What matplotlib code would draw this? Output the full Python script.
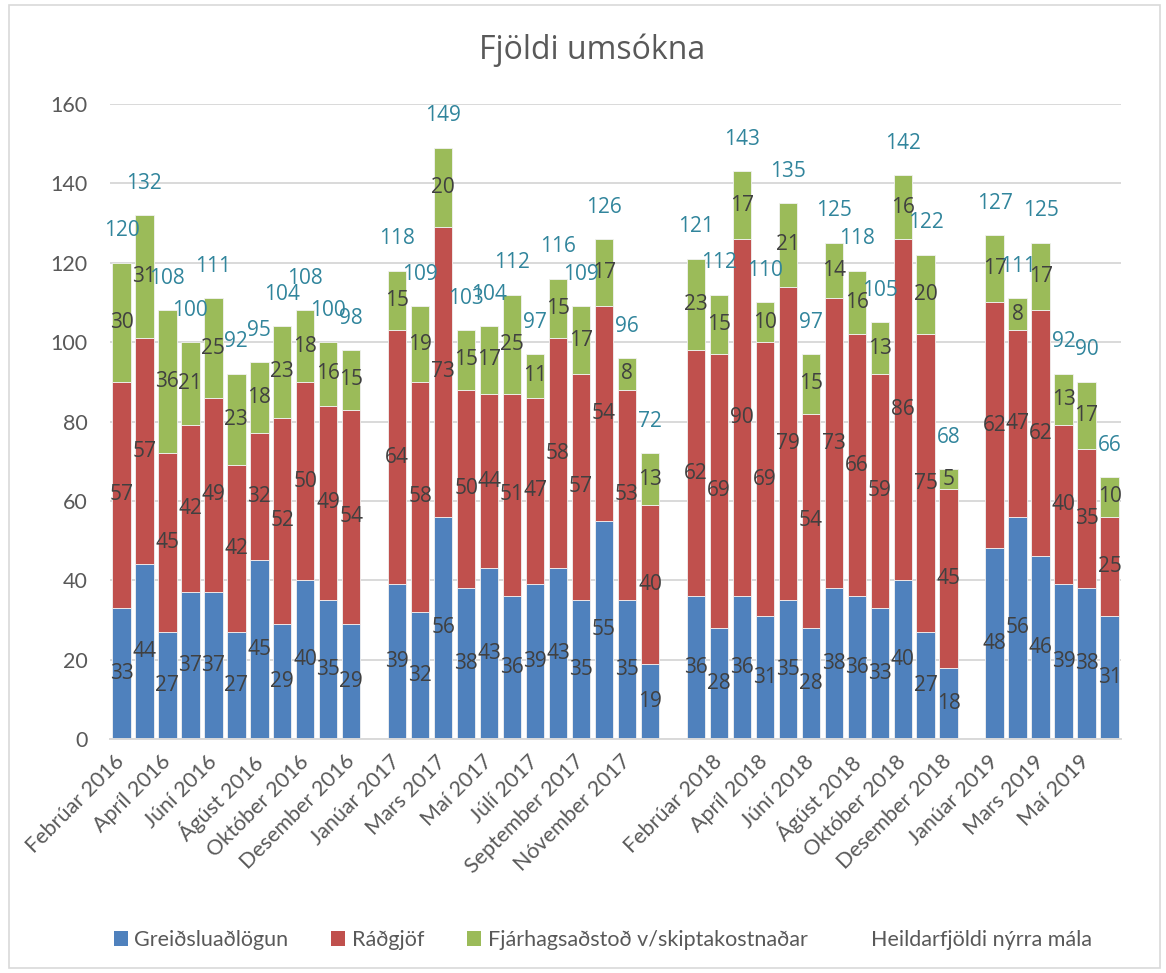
import numpy as np
import matplotlib
matplotlib.use('Agg')
import matplotlib.pyplot as plt
from matplotlib.patches import Patch, Rectangle
from matplotlib.lines import Line2D

# ---------------- data ----------------
categories = [
    'Febrúar 2016', 'Mars 2016', 'Apríl 2016', 'Maí 2016', 'Júní 2016', 'Júlí 2016',
    'Ágúst 2016', 'September 2016', 'Október 2016', 'Nóvember 2016', 'Desember 2016', '',
    'Janúar 2017', 'Febrúar 2017', 'Mars 2017', 'Apríl 2017', 'Maí 2017', 'Júní 2017',
    'Júlí 2017', 'Ágúst 2017', 'September 2017', 'Október 2017', 'Nóvember 2017', 'Desember 2017', '',
    'Janúar 2018', 'Febrúar 2018', 'Mars 2018', 'Apríl 2018', 'Maí 2018', 'Júní 2018',
    'Júlí 2018', 'Ágúst 2018', 'September 2018', 'Október 2018', 'Nóvember 2018', 'Desember 2018', '',
    'Janúar 2019', 'Febrúar 2019', 'Mars 2019', 'Apríl 2019', 'Maí 2019', 'Júní 2019',
]

greidsluadlogun = [33, 44, 27, 37, 37, 27, 45, 29, 40, 35, 29, None,
                   39, 32, 56, 38, 43, 36, 39, 43, 35, 55, 35, 19, None,
                   36, 28, 36, 31, 35, 28, 38, 36, 33, 40, 27, 18, None,
                   48, 56, 46, 39, 38, 31]
radgjof = [57, 57, 45, 42, 49, 42, 32, 52, 50, 49, 54, None,
           64, 58, 73, 50, 44, 51, 47, 58, 57, 54, 53, 40, None,
           62, 69, 90, 69, 79, 54, 73, 66, 59, 86, 75, 45, None,
           62, 47, 62, 40, 35, 25]
fjarhagsadstod = [30, 31, 36, 21, 25, 23, 18, 23, 18, 16, 15, None,
                  15, 19, 20, 15, 17, 25, 11, 15, 17, 17, 8, 13, None,
                  23, 15, 17, 10, 21, 15, 14, 16, 13, 16, 20, 5, None,
                  17, 8, 17, 13, 17, 10]
heildarfjoldi = [120, 132, 108, 100, 111, 92, 95, 104, 108, 100, 98, None,
                 118, 109, 149, 103, 104, 112, 97, 116, 109, 126, 96, 72, None,
                 121, 112, 143, 110, 135, 97, 125, 118, 105, 142, 122, 68, None,
                 127, 111, 125, 92, 90, 66]

series_names = ['Greiðsluaðlögun', 'Ráðgjöf', 'Fjárhagsaðstoð v/skiptakostnaðar',
                'Heildarfjöldi nýrra mála']
title = 'Fjöldi umsókna'

# ---------------- style ----------------
colors = ['#4F81BD', '#C0504D', '#9BBB59']
grid_col = '#D9D9D9'
text_col = '#595959'
label_col = '#404040'
total_col = '#31859C'
lab_font = 'Open Sans'
axis_font = 'Lato'

fig = plt.figure(figsize=(11.66, 9.73), dpi=100)
ax = fig.add_axes([0.0943, 0.2405, 0.8671, 0.6526])

x = np.arange(len(categories))
def arr(v):
    return np.array([np.nan if a is None else a for a in v], dtype=float)

stack = [arr(greidsluadlogun), arr(radgjof), arr(fjarhagsadstod)]
bottom = np.zeros(len(x))
for vals, col, name in zip(stack, colors, series_names[:3]):
    ax.bar(x, vals, width=0.8, bottom=bottom, color=col, edgecolor='#F2F2F2',
           linewidth=0.6, label=name, zorder=2)
    for xi, v, b in zip(x, vals, bottom):
        if not np.isnan(v):
            ax.text(xi, b + v / 2, f'{int(v)}', ha='center', va='center',
                    fontsize=15, family=lab_font, color=label_col, zorder=4)
    bottom = bottom + np.nan_to_num(vals)

tot = arr(heildarfjoldi)
ax.plot(x, tot, linestyle='none', marker=None)
for xi, t in zip(x, tot):
    if not np.isnan(t):
        ax.annotate(f'{int(t)}', (xi, t), xytext=(0, 23), textcoords='offset points',
                    ha='center', va='center', fontsize=15, family=lab_font,
                    color=total_col, zorder=5)

ax.set_xlim(-0.5, len(categories) - 0.5)
ax.set_ylim(0, 160)
ax.set_yticks(np.arange(0, 161, 20))
ax.yaxis.grid(True, color=grid_col, linewidth=1.4)
ax.set_axisbelow(True)
for s in ['top', 'right', 'left']:
    ax.spines[s].set_visible(False)
ax.spines['bottom'].set_color(grid_col)
ax.spines['bottom'].set_linewidth(1.4)

ax.set_xticks(x)
ax.set_xticklabels([c if i % 2 == 0 else '' for i, c in enumerate(categories)],
                   rotation=45, ha='right', va='center', rotation_mode='anchor',
                   fontsize=15.5, family=axis_font, color=text_col)
ax.tick_params(axis='x', length=0, pad=14)
ax.tick_params(axis='y', length=0, pad=16, labelsize=15.5, labelcolor=text_col)
for t in ax.get_yticklabels():
    t.set_family(axis_font)

fig.text(0.508, 0.948, title, ha='center', va='center', fontsize=23,
         family=lab_font, color=text_col)

handles = [Patch(facecolor=c) for c in colors] + [Line2D([], [], linestyle='none')]
fig.legend(handles, series_names, loc='center', bbox_to_anchor=(0.517, 0.034),
           ncol=4, frameon=False, prop={'family': axis_font, 'size': 15.5},
           handlelength=0.65, handleheight=0.65, handletextpad=0.3,
           columnspacing=2.0, labelcolor=text_col)

fig.patches.append(Rectangle((9 / 1166, 5 / 973), 1151 / 1166, 963 / 973,
                             transform=fig.transFigure, fill=False,
                             edgecolor=grid_col, linewidth=1.2))

fig.savefig('out.png', dpi=100)
